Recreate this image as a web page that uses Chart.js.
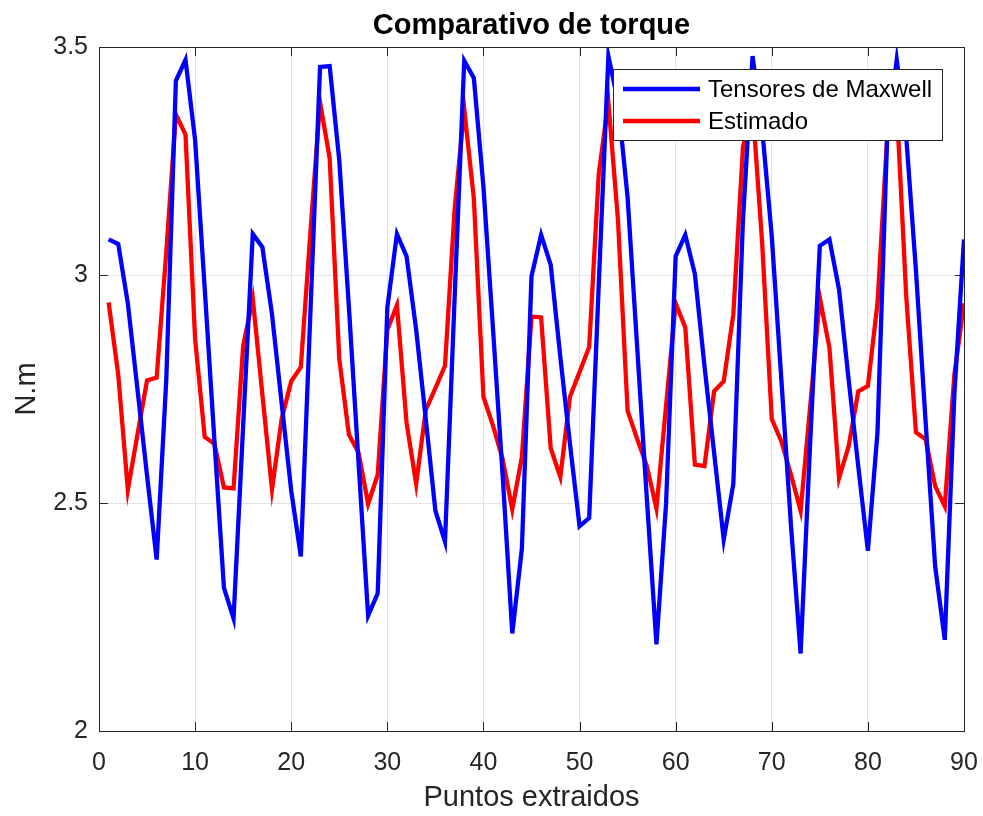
<!DOCTYPE html>
<html lang="es">
<head>
<meta charset="utf-8">
<title>Comparativo de torque</title>
<script src="https://cdn.jsdelivr.net/npm/chart.js@4.4.1/dist/chart.umd.min.js"></script>
<style>
  html, body { margin: 0; padding: 0; background: #ffffff; }
  canvas { display: block; }
</style>
</head>
<body>
<canvas id="grafico" width="983" height="816"></canvas>
<script>
// Índices de los puntos extraídos
const puntos = [
  1, 2, 3, 4, 5, 6, 7, 8, 9, 10,
  11, 12, 13, 14, 15, 16, 17, 18, 19, 20,
  21, 22, 23, 24, 25, 26, 27, 28, 29, 30,
  31, 32, 33, 34, 35, 36, 37, 38, 39, 40,
  41, 42, 43, 44, 45, 46, 47, 48, 49, 50,
  51, 52, 53, 54, 55, 56, 57, 58, 59, 60,
  61, 62, 63, 64, 65, 66, 67, 68, 69, 70,
  71, 72, 73, 74, 75, 76, 77, 78, 79, 80,
  81, 82, 83, 84, 85, 86, 87, 88, 89, 90
];

// Torque por tensores de Maxwell (N.m)
const torqueMaxwell = [
  3.078, 3.068, 2.938, 2.750, 2.560, 2.376, 2.770, 3.426, 3.472, 3.296,
  2.970, 2.640, 2.314, 2.247, 2.670, 3.090, 3.061, 2.914, 2.720, 2.527,
  2.383, 2.920, 3.456, 3.458, 3.251, 2.930, 2.590, 2.253, 2.302, 2.929,
  3.090, 3.041, 2.880, 2.684, 2.483, 2.415, 2.950, 3.470, 3.432, 3.193,
  2.880, 2.560, 2.214, 2.400, 2.997, 3.088, 3.022, 2.820, 2.630, 2.449,
  2.467, 2.980, 3.480, 3.380, 3.170, 2.840, 2.510, 2.190, 2.498, 3.041,
  3.088, 3.002, 2.800, 2.610, 2.420, 2.542, 3.120, 3.480, 3.320, 3.085,
  2.770, 2.450, 2.170, 2.635, 3.064, 3.078, 2.968, 2.770, 2.580, 2.395,
  2.655, 3.300, 3.472, 3.300, 3.010, 2.680, 2.361, 2.200, 2.740, 3.078
];

// Torque estimado (N.m)
const torqueEstimado = [
  2.940, 2.782, 2.529, 2.650, 2.769, 2.775, 3.050, 3.352, 3.308, 2.860,
  2.645, 2.630, 2.534, 2.532, 2.845, 2.948, 2.738, 2.530, 2.684, 2.767,
  2.798, 3.095, 3.379, 3.256, 2.816, 2.650, 2.611, 2.498, 2.562, 2.880,
  2.934, 2.676, 2.542, 2.704, 2.752, 2.801, 3.144, 3.364, 3.168, 2.733,
  2.669, 2.596, 2.486, 2.601, 2.909, 2.907, 2.620, 2.557, 2.733, 2.787,
  2.842, 3.222, 3.379, 3.120, 2.702, 2.640, 2.581, 2.488, 2.713, 2.938,
  2.885, 2.584, 2.581, 2.745, 2.767, 2.914, 3.280, 3.370, 3.070, 2.684,
  2.635, 2.562, 2.483, 2.713, 2.950, 2.840, 2.555, 2.625, 2.745, 2.757,
  2.938, 3.300, 3.370, 2.950, 2.655, 2.640, 2.537, 2.493, 2.782, 2.938
];

// Marcas de los ejes
const ticksX = [0, 10, 20, 30, 40, 50, 60, 70, 80, 90];
const ticksY = [2, 2.5, 3, 3.5];

const FUENTE = '"Liberation Sans", Arial, Helvetica, sans-serif';
const TEXTO = '#262626';
const MARCO = '#262626';
const REJILLA = '#e3e3e3';

// Título, marco completo, marcas hacia dentro y leyenda
const decoracion = {
  id: 'decoracion',
  afterDatasetsDraw(chart) {
    const ctx = chart.ctx;
    const a = chart.chartArea;
    const sx = chart.scales.x, sy = chart.scales.y;
    const largo = 9;

    ctx.save();
    ctx.strokeStyle = MARCO;
    ctx.lineWidth = 1;
    ctx.beginPath();
    ctx.rect(Math.round(a.left) + 0.5, Math.round(a.top) + 0.5,
             Math.round(a.right - a.left), Math.round(a.bottom - a.top));
    ctx.stroke();

    ctx.beginPath();
    ticksX.forEach(v => {
      const px = Math.round(sx.getPixelForValue(v)) + 0.5;
      ctx.moveTo(px, a.bottom); ctx.lineTo(px, a.bottom - largo);
      ctx.moveTo(px, a.top); ctx.lineTo(px, a.top + largo);
    });
    ticksY.forEach(v => {
      const py = Math.round(sy.getPixelForValue(v)) + 0.5;
      ctx.moveTo(a.left, py); ctx.lineTo(a.left + largo, py);
      ctx.moveTo(a.right, py); ctx.lineTo(a.right - largo, py);
    });
    ctx.stroke();

    // Título
    ctx.fillStyle = '#000000';
    ctx.font = 'bold 29px ' + FUENTE;
    ctx.textAlign = 'center';
    ctx.textBaseline = 'middle';
    ctx.fillText('Comparativo de torque', (a.left + a.right) / 2, 26);

    // Leyenda
    const lx = 613.5, ly = 69.5, lw = 329, lh = 71;
    ctx.fillStyle = '#ffffff';
    ctx.fillRect(lx, ly, lw, lh);
    ctx.strokeStyle = MARCO;
    ctx.lineWidth = 1;
    ctx.strokeRect(lx, ly, lw, lh);
    const filas = [89, 121];
    chart.data.datasets.forEach((ds, i) => {
      const y = filas[i];
      ctx.strokeStyle = ds.borderColor;
      ctx.lineWidth = 4.3;
      ctx.beginPath();
      ctx.moveTo(623, y); ctx.lineTo(700, y);
      ctx.stroke();
      ctx.fillStyle = '#000000';
      ctx.font = '24px ' + FUENTE;
      ctx.textAlign = 'left';
      ctx.textBaseline = 'middle';
      ctx.fillText(ds.label, 708, y + 1);
    });
    ctx.restore();
  }
};

new Chart(document.getElementById('grafico'), {
  type: 'line',
  data: {
    datasets: [
      {
        label: 'Tensores de Maxwell',
        data: puntos.map((p, i) => ({ x: p, y: torqueMaxwell[i] })),
        borderColor: '#0000ff',
        borderWidth: 4.3,
        pointRadius: 0,
        tension: 0,
        fill: false
      },
      {
        label: 'Estimado',
        data: puntos.map((p, i) => ({ x: p, y: torqueEstimado[i] })),
        borderColor: '#ff0000',
        borderWidth: 4.3,
        pointRadius: 0,
        tension: 0,
        fill: false
      }
    ]
  },
  options: {
    responsive: false,
    animation: false,
    devicePixelRatio: 1,
    layout: { padding: { top: 47, right: 19, bottom: 0, left: 0 } },
    plugins: {
      legend: { display: false },
      title: { display: false },
      tooltip: { enabled: false }
    },
    scales: {
      x: {
        type: 'linear',
        min: 0,
        max: 90,
        afterBuildTicks(s) { s.ticks = ticksX.map(v => ({ value: v })); },
        afterFit(s) { s.height = 85; s.paddingLeft = 0; s.paddingRight = 0; },
        ticks: {
          color: TEXTO,
          font: { family: FUENTE, size: 25 },
          padding: 17,
          maxRotation: 0,
          autoSkip: false,
          callback: v => String(v)
        },
        grid: { color: REJILLA, lineWidth: 1, drawTicks: false },
        border: { display: true, color: MARCO },
        title: {
          display: true,
          text: 'Puntos extraidos',
          color: TEXTO,
          font: { family: FUENTE, size: 29 },
          padding: { top: 0, bottom: 1 }
        }
      },
      y: {
        type: 'linear',
        min: 2,
        max: 3.5,
        afterBuildTicks(s) { s.ticks = ticksY.map(v => ({ value: v })); },
        afterFit(s) { s.width = 99; s.paddingTop = 0; s.paddingBottom = 0; },
        ticks: {
          color: TEXTO,
          font: { family: FUENTE, size: 25 },
          padding: 11,
          autoSkip: false,
          callback: v => String(v)
        },
        grid: { color: REJILLA, lineWidth: 1, drawTicks: false },
        border: { display: true, color: MARCO },
        title: {
          display: true,
          text: 'N.m',
          color: TEXTO,
          font: { family: FUENTE, size: 29 },
          padding: { top: 10, bottom: 0 }
        }
      }
    }
  },
  plugins: [decoracion]
});
</script>
</body>
</html>
